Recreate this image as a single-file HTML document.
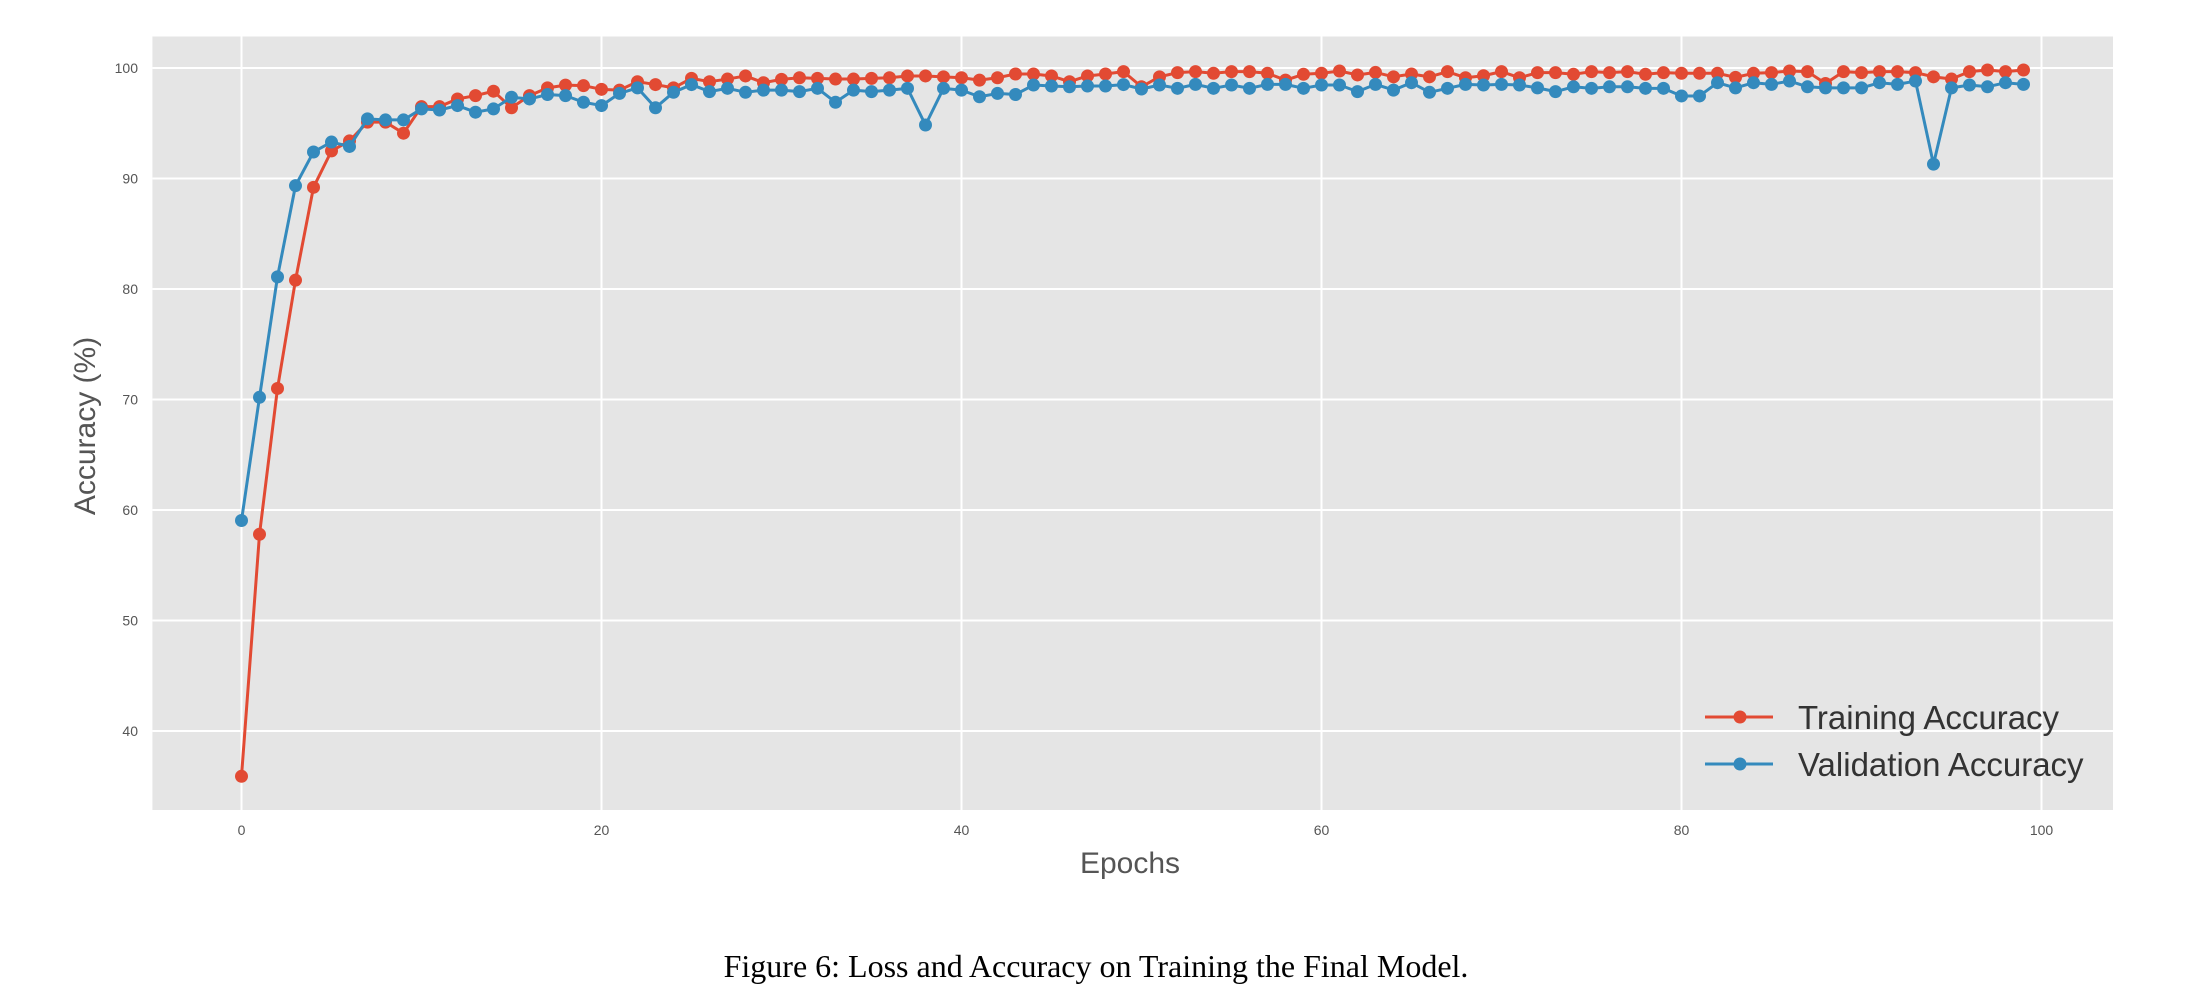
<!DOCTYPE html>
<html><head><meta charset="utf-8"><style>
html,body{margin:0;padding:0;background:#fff;}
svg{display:block;}
text{font-family:"Liberation Sans",sans-serif;}
</style></head><body>
<svg id="chart" width="2190" height="1004" viewBox="0 0 2190 1004" xmlns="http://www.w3.org/2000/svg">
<rect x="152.4" y="36.5" width="1960.6" height="773.5" fill="#E5E5E5"/>
<g id="grid"></g>
<g id="ticks"></g>
<g id="series"></g>
<text transform="translate(95,426) rotate(-90)" text-anchor="middle" font-size="30" fill="#555">Accuracy (%)</text>
<text x="1130" y="873" text-anchor="middle" font-size="30" fill="#555">Epochs</text>
<g>
 <g>
  <line x1="1705" y1="717" x2="1773" y2="717" stroke="#E24A33" stroke-width="3"/>
  <circle cx="1740" cy="717" r="6.5" fill="#E24A33"/>
  <text x="1798" y="729" font-size="33" fill="#333">Training Accuracy</text>
 </g>
 <g>
  <line x1="1705" y1="764" x2="1773" y2="764" stroke="#348ABD" stroke-width="3"/>
  <circle cx="1740" cy="764" r="6.5" fill="#348ABD"/>
  <text x="1798" y="776" font-size="33" fill="#333">Validation Accuracy</text>
 </g>
</g>
<text x="1096" y="977" text-anchor="middle" font-size="32" fill="#000" style="font-family:'Liberation Serif',serif">Figure 6: Loss and Accuracy on Training the Final Model.</text>
</svg>
<script>
const xTicks = [0, 20, 40, 60, 80, 100];
const yTicks = [40, 50, 60, 70, 80, 90, 100];
const trainAcc = [35.9,57.8,71.0,80.8,89.2,92.5,93.4,95.1,95.1,94.1,96.5,96.5,97.2,97.5,97.9,96.4,97.5,98.2,98.45,98.4,
98.07,98.0,98.76,98.5,98.2,99.06,98.76,99.0,99.28,98.67,98.97,99.12,99.06,99.0,99.0,99.06,99.12,99.28,99.28,99.2,
99.12,98.9,99.12,99.46,99.46,99.28,98.76,99.28,99.46,99.67,98.3,99.2,99.58,99.67,99.52,99.67,99.67,99.52,98.9,99.43,
99.52,99.73,99.37,99.6,99.2,99.46,99.2,99.67,99.12,99.3,99.67,99.12,99.58,99.58,99.43,99.67,99.58,99.67,99.43,99.58,
99.52,99.52,99.52,99.15,99.52,99.58,99.73,99.67,98.6,99.67,99.58,99.67,99.67,99.58,99.2,99.0,99.67,99.82,99.67,99.82];
const valAcc = [59.05,70.2,81.1,89.35,92.4,93.3,92.9,95.4,95.3,95.3,96.3,96.2,96.6,96.0,96.3,97.35,97.2,97.6,97.5,96.9,
96.6,97.7,98.2,96.4,97.8,98.5,97.86,98.16,97.8,98.0,98.0,97.86,98.16,96.9,98.0,97.86,98.0,98.16,94.84,98.16,
98.0,97.4,97.7,97.6,98.46,98.37,98.3,98.37,98.37,98.5,98.1,98.46,98.16,98.52,98.16,98.46,98.16,98.52,98.52,98.16,
98.46,98.46,97.86,98.52,98.0,98.67,97.8,98.16,98.52,98.46,98.52,98.46,98.2,97.86,98.3,98.16,98.3,98.3,98.16,98.16,
97.47,97.47,98.67,98.2,98.67,98.52,98.82,98.3,98.2,98.2,98.2,98.67,98.52,98.82,91.3,98.2,98.46,98.3,98.67,98.52];

const NS = "http://www.w3.org/2000/svg";
const xScale = e => 241.5 + e * 18.0;
const yScale = v => 68 + (100 - v) * 11.05;
const grid = document.getElementById('grid');
const ticks = document.getElementById('ticks');
const series = document.getElementById('series');
function mk(tag, attrs, parent){const el=document.createElementNS(NS,tag);for(const k in attrs)el.setAttribute(k,attrs[k]);parent.appendChild(el);return el;}

xTicks.forEach(t => {
  const l = mk('line',{x1:xScale(t),x2:xScale(t),y1:36.5,y2:810,stroke:'#fff','stroke-width':2},grid);
  
  
  const tx = mk('text',{x:xScale(t),y:835,'text-anchor':'middle','font-size':14,fill:'#555'},ticks);
  tx.textContent = t;
  
  
});
yTicks.forEach(t => {
  const l = mk('line',{x1:152.4,x2:2113,y1:yScale(t),y2:yScale(t),stroke:'#fff','stroke-width':2},grid);
  
  
  const tx = mk('text',{x:138,y:yScale(t)+5,'text-anchor':'end','font-size':14,fill:'#555'},ticks);
  tx.textContent = t;
  
  
});
function drawSeries(data, color, name){
  const g = mk('g',{},series);
  
  
  const pts = data.map((v,i)=>xScale(i)+','+yScale(v)).join(' ');
  const pl = mk('polyline',{points:pts,fill:'none',stroke:color,'stroke-width':3,'stroke-linejoin':'round'},g);
  
  
  data.forEach((v,i)=>{
    const c = mk('circle',{cx:xScale(i),cy:yScale(v),r:6.5,fill:color},g);
    
    
  });
}
drawSeries(trainAcc,'#E24A33','training-accuracy');
drawSeries(valAcc,'#348ABD','validation-accuracy');
</script>
</body></html>
